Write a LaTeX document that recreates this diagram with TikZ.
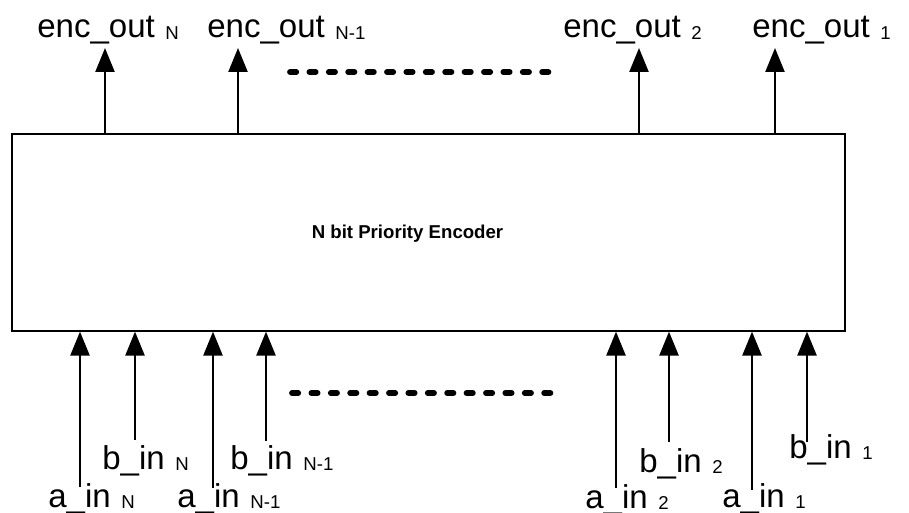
\documentclass[tikz,border=0pt]{standalone}
\usepackage{fontspec}
\setmainfont{Liberation Sans}
\usepackage{tikz}
\usetikzlibrary{arrows.meta, positioning}
\newcommand{\portname}[2]{#1\hspace{0.32em}\raisebox{-1pt}{\fontsize{10.6}{12}\selectfont #2}}
\tikzset{
  encbox/.style={rectangle, draw=black, line width=0.7pt,
    minimum width=16.66cm, minimum height=3.94cm, inner sep=0pt},
  portlbl/.style={anchor=base west, inner sep=0pt,
    font=\fontsize{18.8}{22}\selectfont},
  titlelbl/.style={anchor=base, inner sep=0pt,
    font=\fontsize{10.6}{13}\selectfont\bfseries},
  arrow/.style={-{Triangle[length=0.48cm, width=0.38cm]}, line width=1.4pt},
  gapdots/.style={line width=3.3pt, line cap=round,
    dash pattern=on 0.125cm off 0.263cm}
}

\begin{document}
\begin{tikzpicture}[x=0.02cm, y=-0.02cm]
  \useasboundingbox (0,0) rectangle (909,513);

  % encoder block
  \node[encbox] (enc) at (428.5,232.5) {};
  \node[titlelbl] (title) at (407.5,238) {N bit Priority Encoder};

  % outputs
  \coordinate (oN)  at (105,48);
  \coordinate (oN1) at (238,48);
  \coordinate (o2)  at (639,48);
  \coordinate (o1)  at (775,48);
  \node[portlbl] (loN)  at (37,38)  {\portname{enc\_out}{N}};
  \node[portlbl] (loN1) at (207,38) {\portname{enc\_out}{N-1}};
  \node[portlbl] (lo2)  at (563,38) {\portname{enc\_out}{2}};
  \node[portlbl] (lo1)  at (752,38) {\portname{enc\_out}{1}};
  \draw[arrow] (oN |- enc.north) -- (oN);
  \draw[arrow] (oN1 |- enc.north) -- (oN1);
  \draw[arrow] (o2 |- enc.north) -- (o2);
  \draw[arrow] (o1 |- enc.north) -- (o1);
  \draw[gapdots] (290,72) -- (549,72);

  % inputs
  \coordinate (aN)  at (80,487);
  \coordinate (bN)  at (135,440);
  \coordinate (aN1) at (213,488);
  \coordinate (bN1) at (266,441);
  \coordinate (a2)  at (616,488);
  \coordinate (b2)  at (669,442);
  \coordinate (a1)  at (752,490);
  \coordinate (b1)  at (807,442);
  \node[portlbl] (laN)  at (48,507)  {\portname{a\_in}{N}};
  \node[portlbl] (lbN)  at (102,469) {\portname{b\_in}{N}};
  \node[portlbl] (laN1) at (177,507) {\portname{a\_in}{N-1}};
  \node[portlbl] (lbN1) at (230,469) {\portname{b\_in}{N-1}};
  \node[portlbl] (la2)  at (585,508) {\portname{a\_in}{2}};
  \node[portlbl] (lb2)  at (639,472) {\portname{b\_in}{2}};
  \node[portlbl] (la1)  at (722,507) {\portname{a\_in}{1}};
  \node[portlbl] (lb1)  at (789,458) {\portname{b\_in}{1}};
  \draw[arrow] (aN) -- (aN |- enc.south);
  \draw[arrow] (bN) -- (bN |- enc.south);
  \draw[arrow] (aN1) -- (aN1 |- enc.south);
  \draw[arrow] (bN1) -- (bN1 |- enc.south);
  \draw[arrow] (a2) -- (a2 |- enc.south);
  \draw[arrow] (b2) -- (b2 |- enc.south);
  \draw[arrow] (a1) -- (a1 |- enc.south);
  \draw[arrow] (b1) -- (b1 |- enc.south);
  \draw[gapdots] (292,393) -- (552,393);
\end{tikzpicture}
\end{document}
